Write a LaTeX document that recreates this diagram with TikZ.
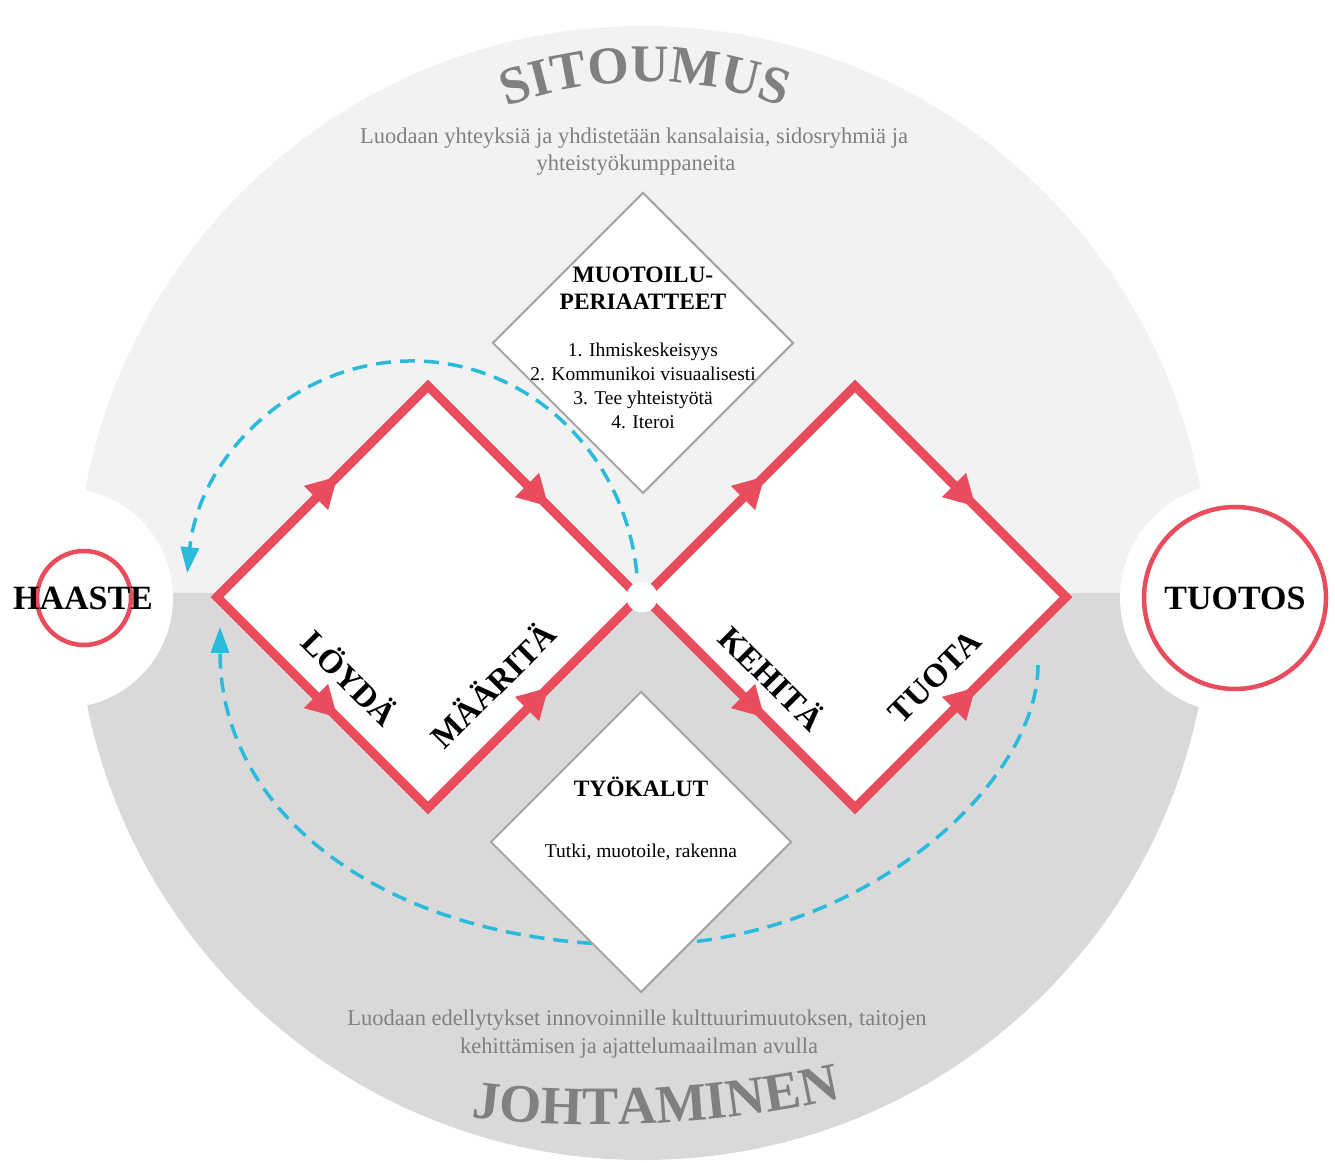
\documentclass[tikz,border=0pt]{standalone}
\usepackage{fontspec}
\setmainfont{Liberation Serif}
\usepackage{xcolor}
\definecolor{ribbon}{RGB}{233,76,92}
\definecolor{loopblue}{RGB}{41,186,220}
\definecolor{upperfill}{RGB}{242,242,242}
\definecolor{lowerfill}{RGB}{217,217,217}
\definecolor{titlegray}{RGB}{128,128,128}
\definecolor{framegray}{RGB}{166,166,166}
\usepackage{tikz}
\usetikzlibrary{shapes.geometric}
\usetikzlibrary{arrows.meta}
\usetikzlibrary{decorations.markings}
\usetikzlibrary{decorations.text}

\begin{document}
\begin{tikzpicture}[x=1pt,y=1pt,
  phase/.style={font=\bfseries\fontsize{33}{40}\selectfont,inner sep=0pt},
  ends/.style={font=\bfseries\fontsize{34}{40}\selectfont,inner sep=0pt},
  heading/.style={font=\bfseries\fontsize{23.5}{28}\selectfont,anchor=base,inner sep=0pt},
  listline/.style={font=\fontsize{19.5}{24}\selectfont,anchor=base,inner sep=0pt},
  remark/.style={font=\fontsize{22.5}{27}\selectfont,text=titlegray,anchor=base,inner sep=0pt},
  pillar/.style={diamond,draw=framegray,line width=2pt,fill=white,minimum size=301pt,inner sep=0pt},
  ring/.style={circle,draw=ribbon,line width=4.5pt,inner sep=0pt},
  ribbonline/.style={draw=ribbon,line width=9pt,fill=white,line join=miter},
  midarrow/.style={color=ribbon,postaction={decorate},
    decoration={markings,mark=at position 0.57 with {\arrow{Triangle[length=30pt,width=34pt]}}}},
  loopline/.style={draw=loopblue,line width=3.5pt,dash pattern=on 15pt off 9pt,-{Triangle[length=26pt,width=18pt]}}
]
\fill[white] (0,0) rectangle (1335,1162);
\useasboundingbox (0,0) rectangle (1335,1162);

% background halves
\coordinate (hub) at (643,569);
\fill[upperfill] ([shift={(0:567)}]hub) arc[start angle=0,end angle=180,radius=567] -- cycle;
\fill[lowerfill] ([shift={(180:567)}]hub) arc[start angle=180,end angle=360,radius=567] -- cycle;
\fill[white] (63,564) circle[radius=110];
\fill[white] (1235,564) circle[radius=115];

\coordinate (tophub) at (645,680);
\coordinate (lowhub) at (600,1137);
\path[decorate,decoration={text along path,text align=center,
  text={|\color{titlegray}\bfseries\fontsize{53}{60}\selectfont|SITOUMUS}}]
  ([shift={(150:400)}]tophub) arc[start angle=150,end angle=30,radius=400];
\path[decorate,decoration={text along path,text align=center,
  text={|\color{titlegray}\bfseries\fontsize{54}{60}\selectfont|JOHTAMINEN}}]
  ([shift={(255:1100)}]lowhub) arc[start angle=255,end angle=290.94,radius=1100];

\node[remark] (commitA) at (634,1018) {Luodaan yhteyksiä ja yhdistetään kansalaisia, sidosryhmiä ja};
\node[remark] (commitB) at (636,991) {yhteistyökumppaneita};
\node[remark] (leadA) at (637,137) {Luodaan edellytykset innovoinnille kulttuurimuutoksen, taitojen};
\node[remark] (leadB) at (639,109) {kehittämisen ja ajattelumaailman avulla};

% iteration loops
\coordinate (loopA) at (636.8,588.8);
\coordinate (loopB) at (1038,497);
\coordinate (loopM) at (640,217);
\coordinate (loopC) at (220,535);
\draw[loopline] (loopA) arc[start angle=6,end angle=174,x radius=226,y radius=237];
\draw[loopline] (loopB) .. controls (1038,377) and (860,217) .. (loopM)
  .. controls (390,217) and (220,345) .. (loopC);

% double diamond
\coordinate (lw) at (217,565);
\coordinate (ln) at (428,776);
\coordinate (le) at (639,565);
\coordinate (ls) at (428,354);
\coordinate (rw) at (644,565);
\coordinate (rn) at (855,776);
\coordinate (re) at (1066,565);
\coordinate (rs) at (855,354);
\draw[ribbonline] (lw) -- (ln) -- (le) -- (ls) -- cycle;
\draw[ribbonline] (rw) -- (rn) -- (re) -- (rs) -- cycle;
\path[midarrow] (lw) -- (ln);
\path[midarrow] (ln) -- (le);
\path[midarrow] (lw) -- (ls);
\path[midarrow] (ls) -- (le);
\path[midarrow] (rw) -- (rn);
\path[midarrow] (rn) -- (re);
\path[midarrow] (rw) -- (rs);
\path[midarrow] (rs) -- (re);
\node[circle,fill=white,minimum size=31pt,inner sep=0pt] (joint) at (642,565) {};

\node[phase,rotate=-45] (find) at (351,485) {LÖYDÄ};
\node[phase,rotate=45] (define) at (492,478) {MÄÄRITÄ};
\node[phase,rotate=-45] (develop) at (773,485) {KEHITÄ};
\node[phase,rotate=45] (deliver) at (935,485) {TUOTA};

% principles and tools
\node[pillar] (principles) at (643,819) {};
\node[heading] (principlesA) at (643,879) {MUOTOILU-};
\node[heading] (principlesB) at (643,852) {PERIAATTEET};
\foreach \txt [count=\i] in {1. Ihmiskeskeisyys,2. Kommunikoi visuaalisesti,3. Tee yhteistyötä,4. Iteroi}
  \node[listline] (rule\i) at (643,829-24*\i) {\txt};
\node[pillar] (tools) at (641,320) {};
\node[heading] (toolsA) at (641,365) {TYÖKALUT};
\node[listline] (toolsB) at (641,304) {Tutki, muotoile, rakenna};

% start and end
\node[ring,minimum size=94pt] (challengering) at (84,564) {};
\node[ends] (challenge) at (83,564) {HAASTE};
\node[ring,ends,minimum size=182pt] (result) at (1235,564) {TUOTOS};
\end{tikzpicture}
\end{document}
